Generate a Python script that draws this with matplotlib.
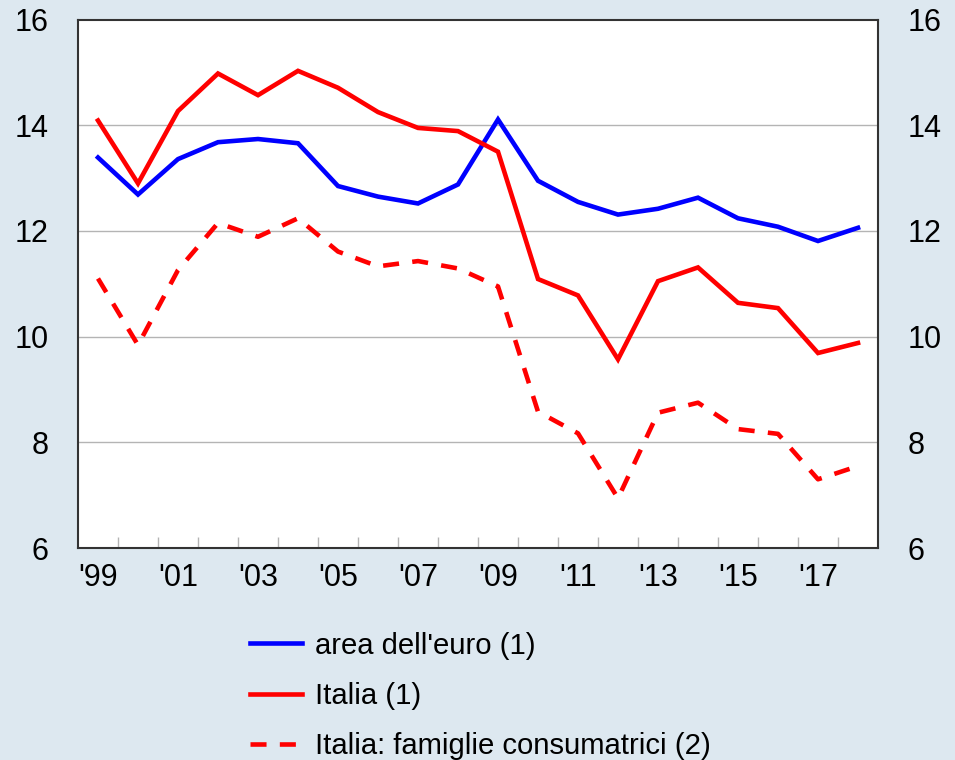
import matplotlib
matplotlib.use("Agg")
import matplotlib.pyplot as plt
from matplotlib.ticker import FixedLocator

plt.rcParams['font.family'] = ['Liberation Sans', 'DejaVu Sans']

years = list(range(1999, 2019))
area_euro = [13.39, 12.69, 13.36, 13.68, 13.74, 13.66, 12.85, 12.65, 12.52, 12.88,
             14.11, 12.95, 12.55, 12.31, 12.42, 12.63, 12.24, 12.08, 11.81, 12.06]
italia = [14.09, 12.90, 14.27, 14.98, 14.57, 15.03, 14.71, 14.25, 13.95, 13.89,
          13.50, 11.09, 10.78, 9.57, 11.05, 11.31, 10.64, 10.54, 9.69, 9.88]
famiglie = [11.10, 9.84, 11.26, 12.15, 11.89, 12.24, 11.61, 11.33, 11.43, 11.29,
            10.95, 8.58, 8.17, 6.94, 8.56, 8.75, 8.25, 8.16, 7.30, 7.55]
xtick_years = list(range(1999, 2018, 2))
xtick_labels = ["'99", "'01", "'03", "'05", "'07", "'09", "'11", "'13", "'15", "'17"]
yticks = [6, 8, 10, 12, 14, 16]
labels = ["area dell'euro (1)", "Italia (1)", "Italia: famiglie consumatrici (2)"]

bg = '#dde8f0'
fig = plt.figure(figsize=(9.55, 7.6), dpi=100, facecolor=bg)
ax = fig.add_axes([78/955, 1 - 548/760, 800/955, (548 - 19.6)/760])
ax.set_facecolor('white')

l1, = ax.plot(years, area_euro, color='#0000ff', lw=3.3, solid_joinstyle='miter')
l2, = ax.plot(years, italia, color='#ff0000', lw=3.3, solid_joinstyle='miter')
l3, = ax.plot(years, famiglie, color='#ff0000', lw=3.3, dashes=(3.5, 2.9))

ax.set_xlim(years[0] - 0.5, years[-1] + 0.5)
ax.set_ylim(6, 16)

for y in yticks[1:-1]:
    ax.axhline(y, color='#b4b4b4', lw=1.0, zorder=0)

ax.set_yticks(yticks)
ax.tick_params(axis='y', length=0, pad=21, labelsize=22, left=True, right=True,
               labelleft=True, labelright=True)
ax.set_xticks(xtick_years)
ax.set_xticklabels(xtick_labels)
ax.tick_params(axis='x', which='major', length=0, pad=11, labelsize=22)
ax.xaxis.set_minor_locator(FixedLocator([y + 0.5 for y in years[:-1]]))
ax.tick_params(axis='x', which='minor', direction='in', length=8, width=1, color='#b4b4b4')

for s in ax.spines.values():
    s.set_color('#333333')
    s.set_linewidth(1.5)

fig.legend([l1, l2, l3], labels, loc='upper left', bbox_to_anchor=(238/955, 1 - 620/760),
           frameon=False, fontsize=21.1, handlelength=1.8, handletextpad=0.42,
           labelspacing=0.76, borderaxespad=0)

fig.savefig('out.png', dpi=100, facecolor=bg)
